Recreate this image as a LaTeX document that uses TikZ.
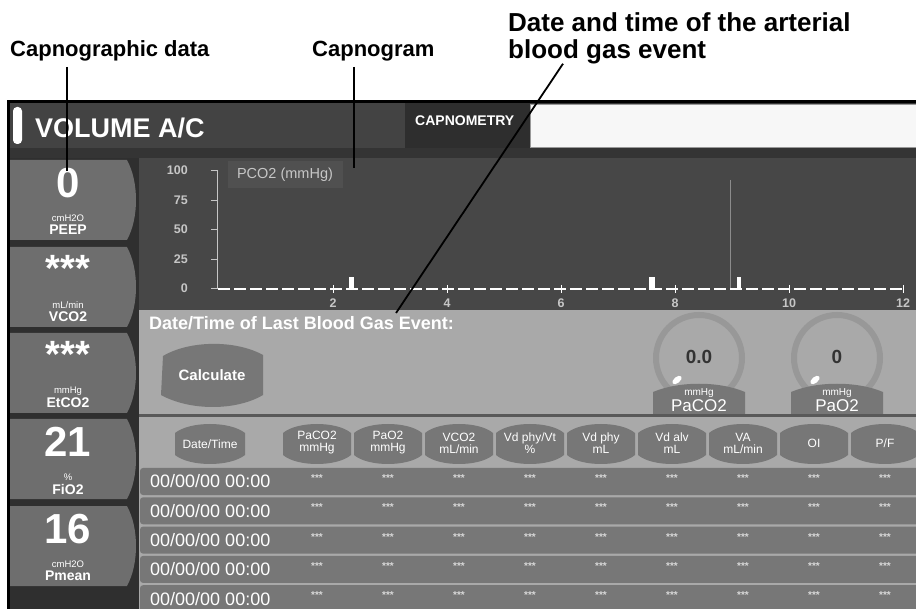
\documentclass[tikz,border=0pt]{standalone}
\usepackage{fontspec}
\setmainfont{Liberation Sans}
\usetikzlibrary{positioning}

\definecolor{hdrbar}{HTML}{434343}
\definecolor{tabdark}{HTML}{2E2E2E}
\definecolor{stripdark}{HTML}{343434}
\definecolor{sidebg}{HTML}{2F2F2F}
\definecolor{sidebtn}{HTML}{6E6E6E}
\definecolor{graphbg}{HTML}{474747}
\definecolor{pcobox}{HTML}{505050}
\definecolor{panelbg}{HTML}{A9A9A9}
\definecolor{ringgray}{HTML}{989898}
\definecolor{widget}{HTML}{777777}
\definecolor{axistext}{HTML}{C6C6C6}

\newcommand{\uisize}[1]{\fontsize{#1}{#1}\selectfont}

\begin{document}
\begin{tikzpicture}[x=1pt, y=-1pt,
    callout/.style={font=\fontsize{22}{26}\selectfont\bfseries, inner sep=0pt, align=left},
    pointer/.style={line width=1.8pt, black},
    bigval/.style={font=\uisize{42}\bfseries, text=white, inner sep=0pt, anchor=north},
    stars/.style={font=\uisize{38}\bfseries, text=white, inner sep=0pt, anchor=north},
    unittext/.style={font=\uisize{9.5}, text=white, inner sep=0pt},
    paramtext/.style={font=\uisize{14}\bfseries, text=white, inner sep=0pt},
    axislabel/.style={font=\uisize{12.5}\bfseries, text=axistext, inner sep=0pt},
    colhead/.style={font=\uisize{12}, text=white, align=center, inner sep=0pt},
    rowdate/.style={font=\uisize{18}, text=white, inner sep=0pt, anchor=west},
    cellstars/.style={font=\uisize{10}\bfseries, text=white!85!black, inner sep=0pt},
    gaugeval/.style={font=\uisize{19}\bfseries, text=black!80, inner sep=0pt},
]
\useasboundingbox (0,0) rectangle (916,609);
\fill[white] (0,0) rectangle (916,609);

% Screen frame and header
\fill[black] (7,100) rectangle (916,609);
\fill[stripdark] (10,103) rectangle (916,609);
\fill[hdrbar] (10,103) rectangle (405,148);
\fill[tabdark] (405,103) rectangle (530,148);
\fill[black!3, draw=black!40] (530,104) rectangle (917,147);
\fill[white, rounded corners=4pt] (13,107) rectangle (22,144);
\node[font=\uisize{27}\bfseries, text=white, anchor=west, inner sep=0pt] (modename) at (35,128) {VOLUME A/C};
\node[font=\uisize{14}\bfseries, text=white, anchor=west, inner sep=0pt] (tabname) at (415,121) {CAPNOMETRY};

% Left column of readings
\fill[sidebg] (10,158) rectangle (139,609);
\foreach \t/\v/\vs/\u/\p [count=\i] in {160/0/bigval/cmH2O/PEEP, 247/***/stars/{mL/min}/VCO2, 333/***/stars/mmHg/EtCO2, 419/21/bigval/\%/FiO2, 506/16/bigval/cmH2O/Pmean} {
  \fill[sidebtn] (10,\t) -- (127,\t) .. controls (139,\t+22) and (139,\t+58) .. (127,\t+80) -- (10,\t+80) -- cycle;
  \node[\vs] (readval-\i) at (68,\t+8) {\v};
  \node[unittext] (readunit-\i) at (68,\t+58) {\u};
  \node[paramtext] (readname-\i) at (68,\t+70) {\p};
}

% Capnogram
\fill[graphbg] (139,158) rectangle (916,310);
\fill[pcobox] (228,161) rectangle (343,188);
\node[font=\uisize{14.5}, text=axistext, inner sep=0pt] (pcolabel) at (285,175) {PCO2 (mmHg)};
\draw[axistext, line width=0.8pt] (217,170) -- (217,289);
\foreach \v/\ly in {100/170, 75/200, 50/229, 25/259, 0/288} {
  \node[axislabel, anchor=east] (ylab-\v) at (188,\ly) {\v};
  \draw[axistext, line width=0.8pt] (211,\ly) -- (217,\ly);
}
\draw[black!45, line width=0.7pt] (730,180) -- (730,289);
\draw[white, line width=2pt, dash pattern=on 12pt off 4pt] (218,289) -- (905,289);
\foreach \xv in {2,4,...,12} {
  \draw[white, line width=1pt] (219+57*\xv,285) -- (219+57*\xv,293);
  \node[axislabel] (xlab-\xv) at (219+57*\xv,303) {\xv};
}
\fill[white] (349,277) rectangle (354,290);
\fill[white] (649,277) rectangle (655,290);
\fill[white] (737,277) rectangle (741,290);

% Blood gas panel
\fill[panelbg] (139,310) rectangle (916,609);
\node[font=\uisize{18}\bfseries, text=white, anchor=west, inner sep=0pt] (eventtitle) at (149,323) {Date/Time of Last Blood Gas Event:};
\fill[widget] (163,356) .. controls (190,340) and (236,340) .. (263,355) -- (263,395) .. controls (236,411) and (190,411) .. (161,395) -- cycle;
\node[font=\uisize{15}\bfseries, text=white, inner sep=0pt] (calcbtn) at (212,375) {Calculate};
\foreach \gx/\gv/\gn [count=\j] in {699/0.0/PaCO2, 837/0/PaO2} {
  \draw[ringgray, line width=6pt] (\gx,358) circle[radius=43];
  \node[gaugeval] (gaugeval-\j) at (\gx,357) {\gv};
  \fill[white, rotate around={40:(\gx-22,380)}] (\gx-22,380) ellipse[x radius=5.5, y radius=3];
  \fill[widget] (\gx-46,414) -- (\gx-46,392) .. controls (\gx-20,381) and (\gx+20,381) .. (\gx+46,392) -- (\gx+46,414) -- cycle;
  \node[unittext, font=\uisize{10}] (gaugeunit-\j) at (\gx,393) {mmHg};
  \node[paramtext, font=\uisize{17}] (gaugename-\j) at (\gx,406) {\gn};
}
\fill[black!65] (139,414) rectangle (916,417);

% Results table
\fill[widget] (175,433) .. controls (190,421) and (230,421) .. (245,433) -- (245,455) .. controls (230,467) and (190,467) .. (175,455) -- cycle;
\node[colhead] (head-0) at (210,444) {Date/Time};
\foreach \ct [count=\k] in {{PaCO2\\mmHg}, {PaO2\\mmHg}, {VCO2\\mL/min}, {Vd phy/Vt\\\%}, {Vd phy\\mL}, {Vd alv\\mL}, {VA\\mL/min}, {OI}, {P/F}} {
  \pgfmathsetmacro{\cx}{246+71*\k}
  \fill[widget] (\cx-34,433) .. controls (\cx-20,421) and (\cx+20,421) .. (\cx+34,433) -- (\cx+34,455) .. controls (\cx+20,467) and (\cx-20,467) .. (\cx-34,455) -- cycle;
  \node[colhead] (head-\k) at (\cx,443) {\ct};
}
\foreach \r in {0,...,4} {
  \pgfmathsetmacro{\rt}{468+29.3*\r}
  \fill[widget, rounded corners=3pt] (140,\rt) rectangle (922,\rt+27);
  \node[rowdate] (rowdate-\r) at (150,\rt+13.5) {00/00/00 00:00};
  \foreach \k in {1,...,9} {
    \node[cellstars] (cell-\r-\k) at (246+71*\k,\rt+10) {***};
  }
}

% Callouts
\node[callout, anchor=base west] (capdata) at (10,57) {Capnographic data};
\node[callout, anchor=base west] (capgram) at (312,57) {Capnogram};
\node[callout, font=\fontsize{26}{27}\selectfont\bfseries, anchor=north west] (bgevent) at (508,12) {Date and time of the arterial\\blood gas event};
\coordinate (capdatatip) at (67,171);
\coordinate (capgramtip) at (354,168);
\coordinate (bgeventtip) at (396,313);
\draw[pointer] ([yshift=-5pt]capdata.south -| capdatatip) -- (capdatatip);
\draw[pointer] ([yshift=-5pt]capgram.south -| capgramtip) -- (capgramtip);
\draw[pointer] ([xshift=55pt]bgevent.south west) -- (bgeventtip);
\end{tikzpicture}
\end{document}
